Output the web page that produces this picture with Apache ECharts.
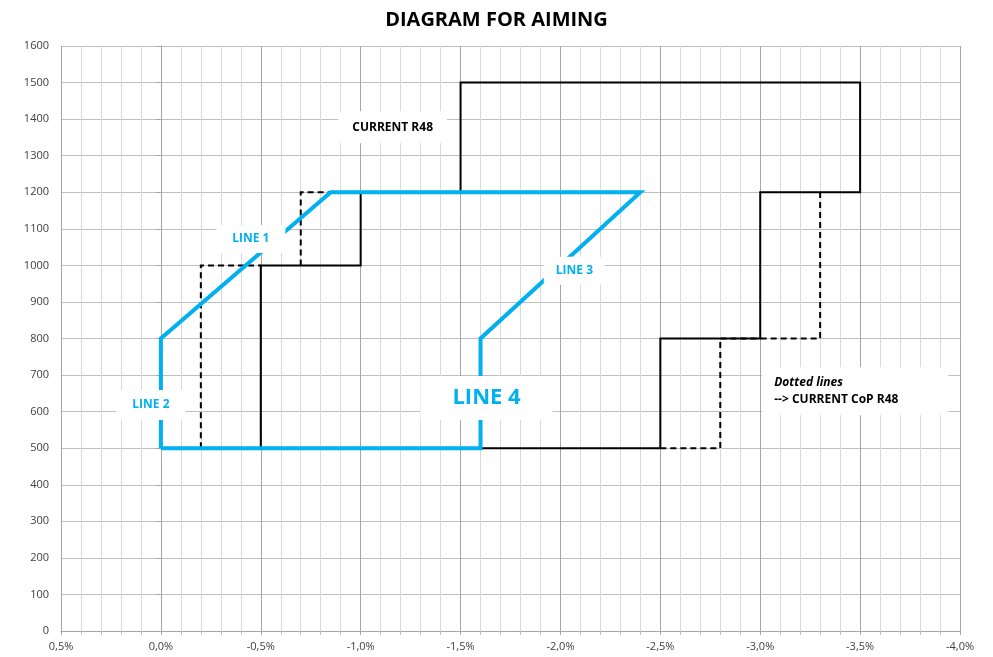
<!DOCTYPE html>
<html>
<head>
<meta charset="utf-8">
<script src="https://cdn.jsdelivr.net/npm/echarts@6/dist/echarts.min.js"></script>
<style>
  html, body { margin: 0; padding: 0; background: #fff; }
  #chart { width: 993px; height: 657px; }
</style>
</head>
<body>
<div id="chart"></div>
<script>
// current R48 envelope (solid black), x in %, y in mm
const r48X = [-0.5, -0.5, -1.0, -1.0, -1.5, -1.5, -3.5, -3.5, -3.0, -3.0, -2.5, -2.5, -0.5]
const r48Y = [500, 1000, 1000, 1200, 1200, 1500, 1500, 1200, 1200, 800, 800, 500, 500]
// current CoP R48 (dashed), three pieces
const copAX = [-0.2, -0.2, -0.5]
const copAY = [500, 1000, 1000]
const copBX = [-0.7, -0.7, -1.0]
const copBY = [1000, 1200, 1200]
const copCX = [-2.5, -2.8, -2.8, -3.3, -3.3]
const copCY = [500, 500, 800, 800, 1200]
// aiming area (blue)
const aimX = [0.0, 0.0, -0.85, -2.4, -1.6, -1.6, 0.0]
const aimY = [500, 800, 1200, 1200, 800, 500, 500]

const FONT = 'Open Sans'
const BLUE = '#00B0F0'

function pts(xs, ys) {
  return xs.map((x, i) => [x, ys[i]])
}

function fmtPct(v) {
  const r = Math.round(v * 10) / 10
  return (r === 0 ? 0 : r).toFixed(1).replace('.', ',') + '%'
}

function lineSeries(name, xs, ys, color, width, type, z) {
  return {
    name: name,
    type: 'line',
    data: pts(xs, ys),
    showSymbol: false,
    symbol: 'none',
    z: z,
    silent: true,
    lineStyle: { color: color, width: width, type: type, cap: 'butt', join: 'miter' },
    animation: false
  }
}

// text box drawn at a data position
function textBox(x, y, text, label) {
  return {
    type: 'scatter',
    data: [[x, y]],
    symbolSize: 0,
    z: 10,
    silent: true,
    animation: false,
    itemStyle: { opacity: 1 },
    label: Object.assign({
      show: true,
      position: 'inside',
      formatter: text,
      backgroundColor: '#fff',
      borderRadius: 0,
      fontFamily: FONT,
      fontWeight: 'bold',
      fontSize: 12
    }, label)
  }
}

const chart = echarts.init(document.getElementById('chart'))
chart.setOption({
  animation: false,
  title: {
    text: 'DIAGRAM FOR AIMING',
    left: 'center',
    top: 5,
    textStyle: { fontFamily: FONT, fontWeight: 'bold', fontSize: 20, color: '#000' }
  },
  grid: { left: 61, right: 33, top: 46, bottom: 26 },
  xAxis: {
    type: 'value',
    inverse: true,
    min: -4,
    max: 0.5,
    interval: 0.5,
    axisLine: { show: true, onZero: false, lineStyle: { color: '#A6A6A6' } },
    axisTick: { show: true, length: 4, lineStyle: { color: '#A6A6A6' } },
    minorTick: { show: true, splitNumber: 5, length: 4, lineStyle: { color: '#BFBFBF' } },
    axisLabel: { fontFamily: FONT, fontSize: 11, color: '#404040', margin: 10, formatter: fmtPct },
    splitLine: { show: true, lineStyle: { color: '#A6A6A6', width: 1 } },
    minorSplitLine: { show: true, lineStyle: { color: '#D9D9D9', width: 1 } }
  },
  yAxis: {
    type: 'value',
    min: 0,
    max: 1600,
    interval: 100,
    axisLine: { show: true, lineStyle: { color: '#A6A6A6' } },
    axisTick: { show: true, length: 5, lineStyle: { color: '#A6A6A6' } },
    axisLabel: { fontFamily: FONT, fontSize: 11, color: '#404040', margin: 12, formatter: (v) => String(v) },
    splitLine: { show: true, lineStyle: { color: '#BFBFBF', width: 1 } }
  },
  series: [
    lineSeries('CURRENT R48', r48X, r48Y, '#000', 2, 'solid', 2),
    lineSeries('CoP A', copAX, copAY, '#000', 2, [6, 4], 2),
    lineSeries('CoP B', copBX, copBY, '#000', 2, [6, 4], 2),
    lineSeries('CoP C', copCX, copCY, '#000', 2, [6, 4], 2),
    lineSeries('AIMING', aimX, aimY, BLUE, 4, 'solid', 3),
    textBox(-1.16, 1378, 'CURRENT R48', { color: '#000', padding: [10, 14] }),
    textBox(-0.45, 1072, 'LINE 1', { color: BLUE, padding: [8, 16] }),
    textBox(0.05, 618, 'LINE 2', { color: BLUE, padding: [9, 16] }),
    textBox(-2.07, 985, 'LINE 3', { color: BLUE, padding: [8, 12] }),
    textBox(-1.63, 637, 'LINE 4', { color: BLUE, fontSize: 22, padding: [11, 32] }),
    textBox(-3.01, 656, '{i|Dotted lines}\n{n|--> CURRENT CoP R48}', {
      position: 'right',
      distance: 0,
      color: '#000',
      padding: [7, 50, 7, 12],
      rich: {
        i: { fontFamily: FONT, fontStyle: 'italic', fontWeight: 'bold', fontSize: 12, lineHeight: 17, color: '#000' },
        n: { fontFamily: FONT, fontWeight: 'bold', fontSize: 12, lineHeight: 17, color: '#000' }
      }
    })
  ]
})
</script>
</body>
</html>
